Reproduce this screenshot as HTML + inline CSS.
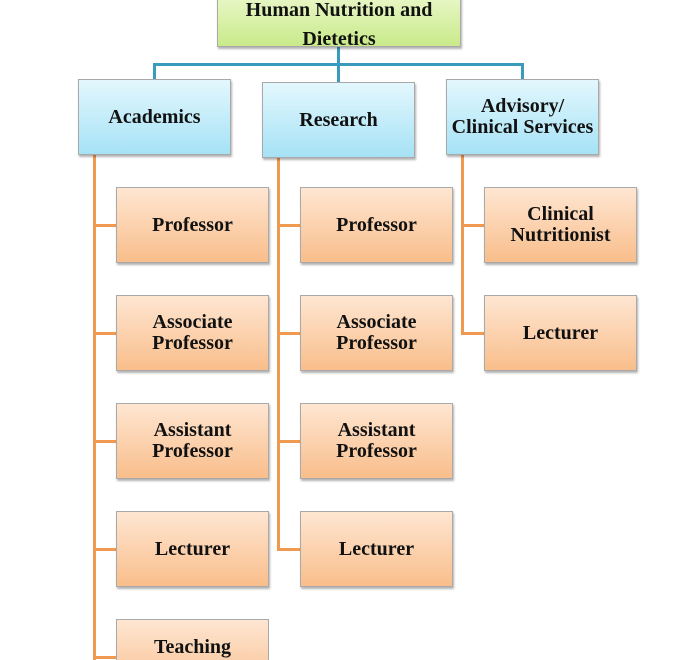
<!DOCTYPE html>
<html><head><meta charset="utf-8"><style>
html,body{margin:0;width:700px;height:660px;overflow:hidden;}
body{background:#fff;position:relative;font-family:"Liberation Serif",serif;}
.b{position:absolute;box-sizing:border-box;display:flex;align-items:center;justify-content:center;text-align:center;font-weight:bold;font-size:20px;line-height:21px;color:#111;border:1px solid #a9a9a9;box-shadow:1px 2px 2px rgba(0,0,0,0.3);}
.o{width:153px;height:76px;background:linear-gradient(#fee6d2,#f9be8b);}
.u{width:153px;height:76px;background:linear-gradient(#e3f7fd,#a6e2f6);}
.l{position:absolute;}
.bl{background:#3a9bbd;}
.or{background:#ef9a50;}
.t{position:absolute;left:0;width:100%;text-align:center;font-weight:bold;font-size:20px;line-height:20px;color:#111;}
</style></head><body>
<div class="l bl" style="left:337px;top:46px;width:3px;height:36px"></div>
<div class="l bl" style="left:153px;top:63px;width:371px;height:3px"></div>
<div class="l bl" style="left:153px;top:63px;width:3px;height:17px"></div>
<div class="l bl" style="left:521px;top:63px;width:3px;height:17px"></div>
<div style="position:absolute;left:217px;top:-14px;width:244px;height:61px;box-sizing:border-box;border:1px solid #a9a9a9;box-shadow:1px 2px 2px rgba(0,0,0,0.3);background:linear-gradient(#eef9d2,#c9ea8a);">
<div class="t" style="top:13px">Human Nutrition and</div>
<div class="t" style="top:42px">Dietetics</div>
</div>

<div class="l or" style="left:93px;top:155px;width:3px;height:505px"></div>
<div class="l or" style="left:277px;top:158px;width:3px;height:393px"></div>
<div class="l or" style="left:461px;top:155px;width:3px;height:180px"></div>
<div class="l or" style="left:93px;top:224px;width:24px;height:3px"></div>
<div class="l or" style="left:93px;top:332px;width:24px;height:3px"></div>
<div class="l or" style="left:93px;top:440px;width:24px;height:3px"></div>
<div class="l or" style="left:93px;top:548px;width:24px;height:3px"></div>
<div class="l or" style="left:93px;top:656px;width:24px;height:3px"></div>
<div class="l or" style="left:277px;top:224px;width:24px;height:3px"></div>
<div class="l or" style="left:277px;top:332px;width:24px;height:3px"></div>
<div class="l or" style="left:277px;top:440px;width:24px;height:3px"></div>
<div class="l or" style="left:277px;top:548px;width:24px;height:3px"></div>
<div class="l or" style="left:461px;top:224px;width:24px;height:3px"></div>
<div class="l or" style="left:461px;top:332px;width:24px;height:3px"></div>

<div class="b u" style="left:78px;top:79px">Academics</div>
<div class="b u" style="left:262px;top:82px">Research</div>
<div class="b u" style="left:446px;top:79px">Advisory/<br>Clinical Services</div>

<div class="b o" style="left:116px;top:187px">Professor</div>
<div class="b o" style="left:116px;top:295px">Associate<br>Professor</div>
<div class="b o" style="left:116px;top:403px">Assistant<br>Professor</div>
<div class="b o" style="left:116px;top:511px">Lecturer</div>
<div class="b" style="left:116px;top:619px;width:153px;height:41px;border-bottom:none;box-shadow:none;background:linear-gradient(#fee6d2,#fbd0ac);align-items:flex-start;padding-top:17px">Teaching</div>

<div class="b o" style="left:300px;top:187px">Professor</div>
<div class="b o" style="left:300px;top:295px">Associate<br>Professor</div>
<div class="b o" style="left:300px;top:403px">Assistant<br>Professor</div>
<div class="b o" style="left:300px;top:511px">Lecturer</div>

<div class="b o" style="left:484px;top:187px">Clinical<br>Nutritionist</div>
<div class="b o" style="left:484px;top:295px">Lecturer</div>
</body></html>
